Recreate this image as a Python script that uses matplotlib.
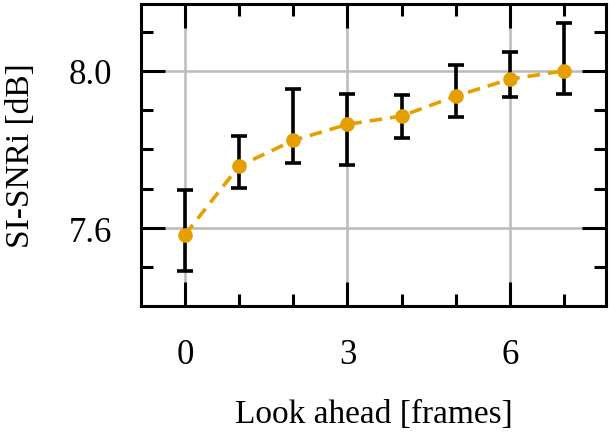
import numpy as np
import matplotlib.pyplot as plt
from matplotlib.ticker import MultipleLocator

# Data
lookahead = [0, 1, 2, 3, 4, 5, 6, 7]
si_snri = [7.583, 7.758, 7.823, 7.864, 7.885, 7.936, 7.979, 8.000]
err_top = [7.697, 7.834, 7.953, 7.941, 7.938, 8.015, 8.048, 8.122]
err_bottom = [7.491, 7.702, 7.766, 7.761, 7.830, 7.883, 7.933, 7.941]

y = np.array(si_snri)
yerr = [y - np.array(err_bottom), np.array(err_top) - y]

plt.rcParams['font.family'] = ['Liberation Serif', 'DejaVu Serif']

fig = plt.figure(figsize=(6.11, 4.35), dpi=100)
ax = fig.add_axes([0.2308, 0.2943, 0.761, 0.6942])

# error bars (black) and the mean curve (orange, dashed)
ax.errorbar(lookahead, y, yerr=yerr, fmt='none', ecolor='black',
            elinewidth=2.6, capsize=6, capthick=2.6, zorder=3)
ax.plot(lookahead, y, linestyle=(0, (3.5, 2.2)), color='#E69F00', linewidth=2.6,
        marker='o', markersize=9.5, zorder=4)

ax.set_xlim(-0.81, 7.77)
ax.set_ylim(7.402, 8.170)

ax.xaxis.set_major_locator(MultipleLocator(3))
ax.xaxis.set_minor_locator(MultipleLocator(1))
ax.yaxis.set_minor_locator(MultipleLocator(0.1))
ax.set_yticks([7.6, 8.0])
ax.set_yticklabels(['7.6', '8.0'])

ax.grid(True, which='major', color='#bbbbbb', linewidth=1.8, zorder=0)
ax.set_axisbelow(True)

ax.tick_params(which='both', direction='in', top=True, right=True,
               width=2.2, labelsize=25, color='black')
ax.tick_params(which='major', length=17, pad=21)
ax.tick_params(which='minor', length=8.5)
ax.tick_params(axis='x', which='major', pad=23)

for s in ax.spines.values():
    s.set_linewidth(2.2)

ax.set_xlabel('Look ahead [frames]', fontsize=24)
ax.set_ylabel('SI-SNRi [dB]', fontsize=24)
ax.xaxis.set_label_coords(0.5, -0.305)
ax.yaxis.set_label_coords(-0.225, 0.5)

fig.savefig('out.png', dpi=100)
